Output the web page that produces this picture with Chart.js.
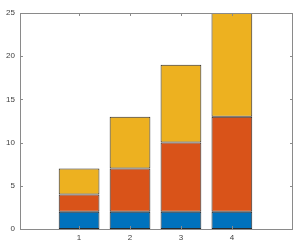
<!DOCTYPE html>
<html><head><meta charset="utf-8">
<script src="https://cdn.jsdelivr.net/npm/chart.js@4"></script>
<style>html,body{margin:0;padding:0;background:#fff}#wrap{width:300px;height:245px}</style>
</head><body><div id="wrap"><canvas id="c" width="300" height="245"></canvas></div>
<script>
const categories = [1, 2, 3, 4];
const seriesA = [2, 2, 2, 2];
const seriesB = [2, 5, 8, 11];
const seriesC = [3, 6, 9, 12];
const yTicks = [0, 5, 10, 15, 20, 25];

const mk = (vals, color) => ({
  data: categories.map((c, i) => ({x: c, y: vals[i]})),
  backgroundColor: color, borderColor: '#2a2a2a', borderWidth: 1,
  barPercentage: 0.8, categoryPercentage: 1.0, borderSkipped: false
});

const axisColor = '#8a8a8a';
const boxPlugin = {
  id: 'box',
  afterDraw(chart) {
    const {ctx, chartArea: a, scales: {x, y}} = chart;
    ctx.save();
    ctx.strokeStyle = axisColor; ctx.lineWidth = 1;
    ctx.strokeRect(a.left + 0.5, a.top + 0.5, a.right - a.left - 1, a.bottom - a.top);
    ctx.beginPath();
    const L = 3;
    yTicks.forEach(v => {
      const py = Math.round(y.getPixelForValue(v)) + 0.5;
      ctx.moveTo(a.left, py); ctx.lineTo(a.left + L, py);
      ctx.moveTo(a.right, py); ctx.lineTo(a.right - L, py);
    });
    categories.forEach(v => {
      const px = Math.round(x.getPixelForValue(v)) + 0.5;
      ctx.moveTo(px, a.bottom); ctx.lineTo(px, a.bottom - L);
      ctx.moveTo(px, a.top); ctx.lineTo(px, a.top + L);
    });
    ctx.stroke();
    ctx.restore();
  }
};

new Chart(document.getElementById('c'), {
  type: 'bar',
  data: { datasets: [mk(seriesA, '#0072BD'), mk(seriesB, '#D95319'), mk(seriesC, '#EDB120')] },
  options: {
    responsive: false, animation: false,
    layout: { padding: { top: 13, right: 7, left: 0, bottom: 0 } },
    plugins: { legend: { display: false }, tooltip: { enabled: false } },
    scales: {
      x: {
        type: 'linear', stacked: true, min: -0.16, max: 5.2, offset: false,
        afterBuildTicks: s => { s.ticks = categories.map(v => ({value: v})); },
        afterFit: s => { s.height = 16; },
        grid: { display: false, drawTicks: false },
        border: { display: false },
        ticks: { color: '#404040', font: { family: 'Arial, Liberation Sans', size: 8 }, padding: 4,
                 callback: v => String(v) }
      },
      y: {
        stacked: true, min: 0, max: 25,
        afterBuildTicks: s => { s.ticks = yTicks.map(v => ({value: v})); },
        afterFit: s => { s.width = 20; },
        grid: { display: false, drawTicks: false },
        border: { display: false },
        ticks: { color: '#404040', font: { family: 'Arial, Liberation Sans', size: 8 }, padding: 5 }
      }
    }
  },
  plugins: [boxPlugin]
});
</script></body></html>
